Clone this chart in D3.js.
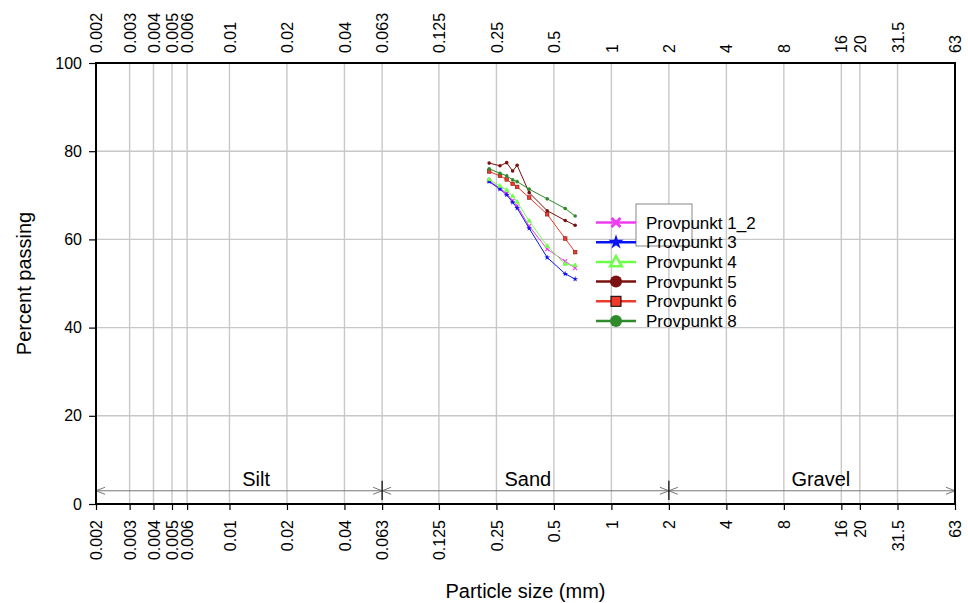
<!DOCTYPE html>
<html>
<head>
<meta charset="utf-8">
<script src="https://cdn.jsdelivr.net/npm/d3@7"></script>
<style>
  html, body { margin: 0; padding: 0; background: #fff; }
  svg { display: block; font-family: "Liberation Sans", Arial, Helvetica, sans-serif; }
</style>
</head>
<body>
<svg id="chart" width="968" height="603"></svg>
<script>
// Sieve sizes (mm) shared by every sample
const sizes = [0.229, 0.261, 0.283, 0.304, 0.321, 0.371, 0.461, 0.573, 0.646];

// Percent passing per sample
const prov1_2 = [73.3, 71.6, 70.4, 68.8, 67.6, 63.0, 57.8, 55.0, 53.5];
const prov3   = [73.1, 71.4, 70.1, 68.4, 67.1, 62.5, 55.9, 52.2, 51.0];
const prov4   = [73.6, 72.1, 71.2, 69.8, 68.5, 64.2, 58.5, 54.4, 54.1];
const prov5   = [77.3, 76.7, 77.4, 75.5, 76.8, 70.6, 66.5, 64.3, 63.2];
const prov6   = [75.4, 74.4, 73.6, 72.6, 71.9, 69.5, 65.7, 60.2, 57.1];
const prov8   = [76.0, 75.0, 74.4, 73.5, 73.1, 71.4, 69.2, 67.0, 65.3];

const seriesNames = ["Provpunkt 1_2", "Provpunkt 3", "Provpunkt 4", "Provpunkt 5", "Provpunkt 6", "Provpunkt 8"];
const seriesValues = [prov1_2, prov3, prov4, prov5, prov6, prov8];
const seriesColors = ["#ee3cee", "#0a14f0", "#6eff4a", "#7a1010", "#ee3a2a", "#2e8a2a"];
const seriesMarkers = ["cross", "star", "triangle", "circle", "square", "circle"];

// Axis ticks
const xTickValues = [0.002, 0.003, 0.004, 0.005, 0.006, 0.01, 0.02, 0.04, 0.063, 0.125, 0.25, 0.5, 1, 2, 4, 8, 16, 20, 31.5, 63];
const xTickLabels = ["0.002", "0.003", "0.004", "0.005", "0.006", "0.01", "0.02", "0.04", "0.063", "0.125", "0.25", "0.5", "1", "2", "4", "8", "16", "20", "31.5", "63"];
const yTickValues = [0, 20, 40, 60, 80, 100];

// Soil fractions
const fractionBounds = [0.002, 0.063, 2, 63];
const fractionNames = ["Silt", "Sand", "Gravel"];
const fractionLabelAt = [0.0138, 0.365, 12.5];

const svg = d3.select("#chart");
const margin = { left: 96, right: 13, top: 63, bottom: 99 };
const W = 968, H = 603;

const x = d3.scaleLog().domain([0.002, 63]).range([margin.left, W - margin.right]);
const y = d3.scaleLinear().domain([0, 100]).range([H - margin.bottom, margin.top]);

const x0 = x.range()[0], x1 = x.range()[1];
const yb = y(0), yt = y(100);

// Grid
const grid = svg.append("g");
grid.selectAll("line.v").data(xTickValues).join("line")
  .attr("x1", d => x(d)).attr("x2", d => x(d))
  .attr("y1", yt).attr("y2", yb)
  .attr("stroke", "#c8c8c8").attr("stroke-width", 1.4);
grid.selectAll("line.h").data(yTickValues.filter(v => v > 0 && v < 100)).join("line")
  .attr("x1", x0).attr("x2", x1)
  .attr("y1", d => y(d)).attr("y2", d => y(d))
  .attr("stroke", "#c8c8c8").attr("stroke-width", 1.4);

// Fraction band
const bandY = y(3);
const band = svg.append("g").attr("stroke", "#777").attr("fill", "none").attr("stroke-width", 1);
band.append("line").attr("x1", x0).attr("x2", x1).attr("y1", bandY).attr("y2", bandY);
const ah = 9, aw = 3.5;
fractionBounds.forEach((b, i) => {
  const px = x(b);
  if (i > 0) {
    band.append("path").attr("d", `M${px - ah},${bandY - aw}L${px},${bandY}L${px - ah},${bandY + aw}`);
  }
  if (i < fractionBounds.length - 1) {
    band.append("path").attr("d", `M${px + ah},${bandY - aw}L${px},${bandY}L${px + ah},${bandY + aw}`);
  }
  if (i > 0 && i < fractionBounds.length - 1) {
    svg.append("line").attr("x1", px).attr("x2", px)
      .attr("y1", y(5.3)).attr("y2", y(0.9))
      .attr("stroke", "#000").attr("stroke-width", 1.2);
  }
});
svg.selectAll("text.frac").data(fractionNames).join("text")
  .attr("x", (d, i) => x(fractionLabelAt[i]))
  .attr("y", bandY - 4.5)
  .attr("text-anchor", "middle")
  .attr("font-size", 20)
  .text(d => d);

// Frame
svg.append("rect").attr("x", x0).attr("y", yt).attr("width", x1 - x0).attr("height", yb - yt)
  .attr("fill", "none").attr("stroke", "#000").attr("stroke-width", 2);

// Bottom axis
const bottomAxis = d3.axisBottom(x).tickValues(xTickValues)
  .tickFormat((d, i) => xTickLabels[i]).tickSize(6).tickPadding(3);
const gB = svg.append("g").attr("transform", `translate(0,${yb})`).call(bottomAxis);
gB.select(".domain").remove();
gB.selectAll(".tick line").attr("stroke", "#000").attr("stroke-width", 1.2);
gB.selectAll(".tick text")
  .attr("font-size", 16).attr("font-family", "Liberation Sans, Arial, sans-serif").attr("fill", "#000")
  .attr("text-anchor", "end")
  .attr("transform", "rotate(-90)")
  .attr("x", -16).attr("y", 0).attr("dy", "0.35em");

// Top axis (labels only)
const topAxis = d3.axisTop(x).tickValues(xTickValues)
  .tickFormat((d, i) => xTickLabels[i]).tickSize(0).tickPadding(0);
const gT = svg.append("g").attr("transform", `translate(0,${yt})`).call(topAxis);
gT.select(".domain").remove();
gT.selectAll(".tick text")
  .attr("font-size", 16).attr("font-family", "Liberation Sans, Arial, sans-serif").attr("fill", "#000")
  .attr("text-anchor", "start")
  .attr("transform", "rotate(-90)")
  .attr("x", 10).attr("y", 0).attr("dy", "0.35em");

// Left axis
const leftAxis = d3.axisLeft(y).tickValues(yTickValues).tickSize(7).tickPadding(7);
const gL = svg.append("g").attr("transform", `translate(${x0},0)`).call(leftAxis);
gL.select(".domain").remove();
gL.selectAll(".tick line").attr("stroke", "#000").attr("stroke-width", 1.2);
gL.selectAll(".tick text").attr("font-size", 16)
  .attr("font-family", "Liberation Sans, Arial, sans-serif").attr("fill", "#000");

// Axis titles
svg.append("text").attr("x", (x0 + x1) / 2).attr("y", 598)
  .attr("text-anchor", "middle").attr("font-size", 20).text("Particle size (mm)");
svg.append("text").attr("transform", `translate(31,${(yt + yb) / 2}) rotate(-90)`)
  .attr("text-anchor", "middle").attr("font-size", 20).text("Percent passing");

// Marker drawing helper
function drawMarker(g, type, cx, cy, s, color, big) {
  if (type === "cross") {
    g.append("path").attr("d", `M${cx - s},${cy - s}L${cx + s},${cy + s}M${cx - s},${cy + s}L${cx + s},${cy - s}`)
      .attr("stroke", color).attr("stroke-width", big ? 3 : 1.2).attr("fill", "none");
  } else if (type === "star") {
    g.append("path").attr("d", d3.symbol(d3.symbolStar, big ? 70 : 10)())
      .attr("transform", `translate(${cx},${cy})`).attr("fill", color);
  } else if (type === "triangle") {
    g.append("path").attr("d", d3.symbol(d3.symbolTriangle, big ? 60 : 8)())
      .attr("transform", `translate(${cx},${cy + (big ? 1 : 0)})`)
      .attr("fill", big ? "#fff" : color).attr("stroke", color).attr("stroke-width", big ? 2.5 : 0.8);
  } else if (type === "circle") {
    g.append("circle").attr("cx", cx).attr("cy", cy).attr("r", s).attr("fill", color);
  } else if (type === "square") {
    g.append("rect").attr("x", cx - s).attr("y", cy - s).attr("width", 2 * s).attr("height", 2 * s)
      .attr("fill", color).attr("stroke", big ? "#000" : "#8a1a10").attr("stroke-width", big ? 1 : 0.6);
  }
}

// Data series
const line = d3.line().x(d => x(d[0])).y(d => y(d[1]));
seriesValues.forEach((vals, si) => {
  const pts = sizes.map((s, i) => [s, vals[i]]);
  const g = svg.append("g");
  g.append("path").attr("d", line(pts)).attr("fill", "none")
    .attr("stroke", seriesColors[si]).attr("stroke-width", 1);
  pts.forEach(p => drawMarker(g, seriesMarkers[si], x(p[0]), y(p[1]), seriesMarkers[si] === "cross" ? 2 : 1.8, seriesColors[si], false));
});

// Legend
const lg = svg.append("g");
lg.append("rect").attr("x", 636).attr("y", 204).attr("width", 56).attr("height", 42)
  .attr("fill", "#fff").attr("stroke", "#888").attr("stroke-width", 1);
seriesNames.forEach((name, i) => {
  const ly = 222.5 + i * 19.7;
  lg.append("line").attr("x1", 596).attr("x2", 636).attr("y1", ly).attr("y2", ly)
    .attr("stroke", seriesColors[i]).attr("stroke-width", 2.5);
  drawMarker(lg, seriesMarkers[i], 616, ly, seriesMarkers[i] === "cross" ? 4.5 : (seriesMarkers[i] === "square" ? 5 : 6), seriesColors[i], true);
  lg.append("text").attr("x", 646).attr("y", ly + 6).attr("font-size", 17).text(name);
});
</script>
</body>
</html>
